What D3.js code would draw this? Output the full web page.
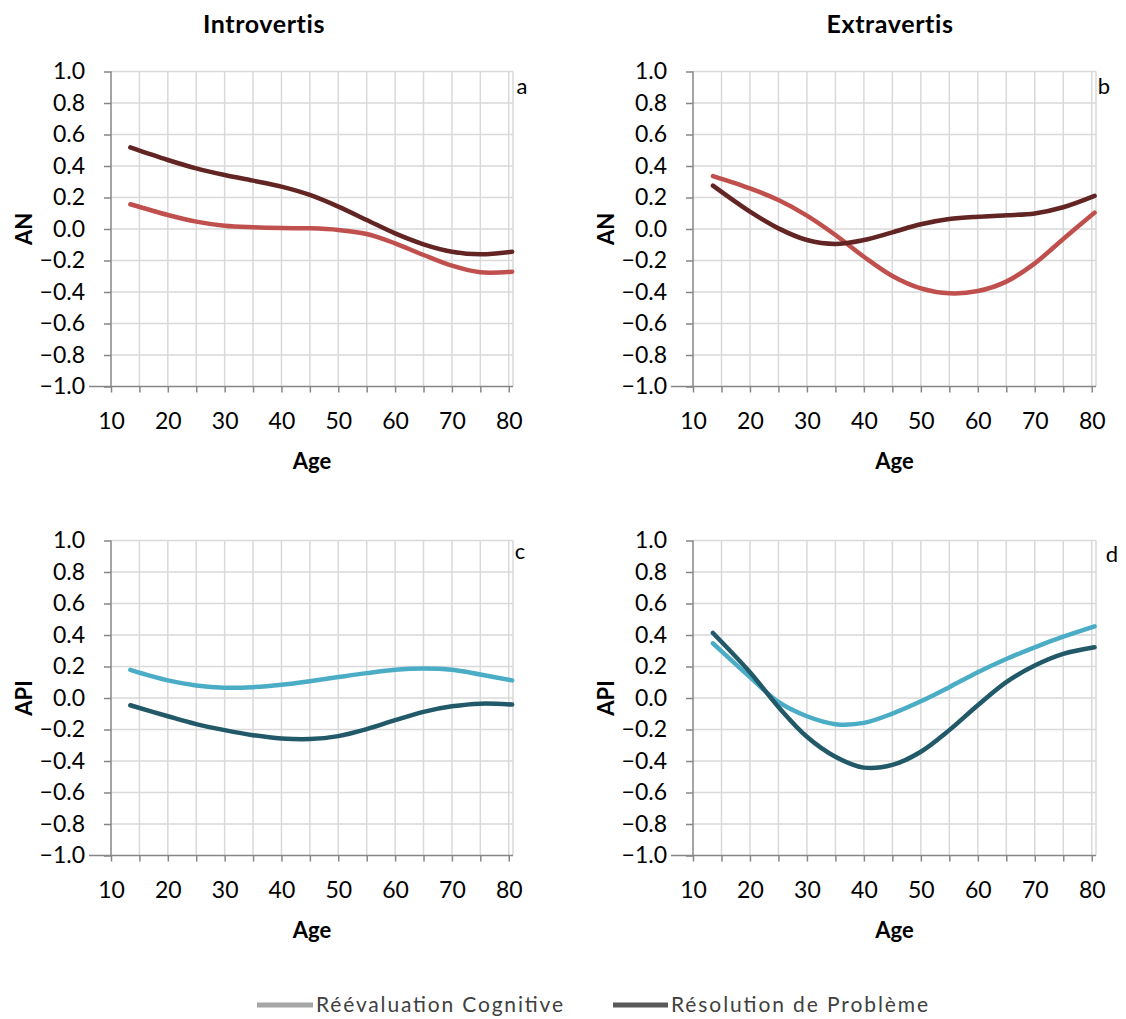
<!DOCTYPE html>
<html><head><meta charset="utf-8">
<script src="https://cdn.jsdelivr.net/npm/d3@7"></script>
<style>body{margin:0;background:#fff;} text{font-family:Lato,"Open Sans",sans-serif;}</style>
</head><body>
<svg id="chart" width="1126" height="1019"></svg>
<script>
// ---- data ----
const ageTicks = [10,20,30,40,50,60,70,80];
const yTicks = [-1.0,-0.8,-0.6,-0.4,-0.2,0.0,0.2,0.4,0.6,0.8,1.0];
const seriesNames = ["Réévaluation Cognitive","Résolution de Problème"];
const columnTitles = ["Introvertis","Extravertis"];

const agesA = [13.4,20,25,30,35,40,45,50,55,60,65,70,75,80.6];
const aReeval = [0.157,0.089,0.047,0.021,0.011,0.006,0.004,-0.006,-0.032,-0.091,-0.165,-0.233,-0.275,-0.271];
const aResol  = [0.518,0.438,0.385,0.343,0.307,0.269,0.216,0.142,0.057,-0.028,-0.097,-0.144,-0.161,-0.144];

const agesB = [13.5,20,25,30,35,40,45,50,55,60,65,70,75,80.5];
const bReeval = [0.336,0.258,0.184,0.085,-0.038,-0.176,-0.298,-0.377,-0.408,-0.394,-0.334,-0.218,-0.063,0.104];
const bResol  = [0.275,0.110,0.004,-0.070,-0.095,-0.070,-0.021,0.030,0.063,0.078,0.087,0.099,0.138,0.210];

const agesC = [13.4,20,25,30,35,40,45,50,55,60,65,70,75,80.6];
const cReeval = [0.179,0.112,0.080,0.065,0.069,0.084,0.107,0.133,0.158,0.179,0.187,0.179,0.149,0.112];
const cResol  = [-0.046,-0.116,-0.166,-0.204,-0.236,-0.257,-0.261,-0.242,-0.198,-0.141,-0.088,-0.053,-0.036,-0.042];

const agesD = [13.5,20,25,30,35,40,45,50,55,60,65,70,75,80.5];
const dReeval = [0.347,0.133,-0.025,-0.116,-0.166,-0.158,-0.099,-0.021,0.069,0.164,0.248,0.322,0.389,0.455];
const dResol  = [0.413,0.164,-0.057,-0.246,-0.373,-0.442,-0.425,-0.341,-0.204,-0.046,0.101,0.206,0.280,0.322];

// ---- drawing ----
const svg = d3.select("#chart");
const panels = [
  {id:"a", ylab:"AN",  x0:111, x1:513,  y0:71.5,  y1:386.5, ages:agesA, s:[aReeval,aResol], col:["#c0504d","#632523"]},
  {id:"b", ylab:"AN",  x0:693, x1:1096, y0:71.5,  y1:386.5, ages:agesB, s:[bReeval,bResol], col:["#c0504d","#632523"]},
  {id:"c", ylab:"API", x0:111, x1:513,  y0:540.5, y1:855.5, ages:agesC, s:[cReeval,cResol], col:["#4bacc6","#215968"]},
  {id:"d", ylab:"API", x0:693, x1:1096, y0:540.5, y1:855.5, ages:agesD, s:[dReeval,dResol], col:["#4bacc6","#215968"]}
];
const labelPos = {a:[522,94], b:[1104,94], c:[520,559], d:[1112,562]};

panels.forEach(p => {
  const x = d3.scaleLinear().domain([10,80.75]).range([p.x0,p.x1]);
  const y = d3.scaleLinear().domain([-1,1]).range([p.y1,p.y0]);
  const g = svg.append("g");
  // gridlines
  const minor = d3.range(15,81,5);
  g.selectAll(".vg").data(minor).join("line")
    .attr("x1",d=>x(d)).attr("x2",d=>x(d)).attr("y1",p.y0).attr("y2",p.y1)
    .attr("stroke","#d9d9d9").attr("stroke-width",1.5);
  g.selectAll(".hg").data(yTicks.filter(v=>v>-1)).join("line")
    .attr("x1",p.x0).attr("x2",p.x1).attr("y1",d=>y(d)).attr("y2",d=>y(d))
    .attr("stroke","#d9d9d9").attr("stroke-width",1.5);
  g.append("line").attr("x1",p.x1).attr("x2",p.x1).attr("y1",p.y0).attr("y2",p.y1)
    .attr("stroke","#d9d9d9").attr("stroke-width",1.5);
  // axes
  const xa = g.append("g").attr("transform",`translate(0,${p.y1})`)
    .call(d3.axisBottom(x).tickValues(d3.range(10,81,5)).tickSize(6).tickPadding(20)
      .tickFormat(d => d%10===0 ? d : ""));
  const ya = g.append("g").attr("transform",`translate(${p.x0},0)`)
    .call(d3.axisLeft(y).tickValues(yTicks).tickSize(7).tickPadding(19).tickFormat(d3.format(".1f")));
  [xa,ya].forEach(a=>{
    a.select(".domain").attr("stroke","#868686").attr("stroke-width",1.5);
    a.selectAll(".tick line").attr("stroke","#868686").attr("stroke-width",1.5);
    a.selectAll(".tick text").attr("font-size",23).attr("fill","#000").attr("font-family","Lato");
  });
  ya.select(".domain").attr("d",`M0,${p.y0}V${p.y1}`);
  xa.select(".domain").attr("d",`M${p.x0 - 22},0H${p.x1}`);
  // lines
  const line = d3.line().x(d=>x(d[0])).y(d=>y(d[1])).curve(d3.curveCatmullRom.alpha(0.5));
  p.s.forEach((vals,i) => {
    g.append("path").datum(p.ages.map((a,k)=>[a,vals[k]]))
      .attr("d",line).attr("fill","none").attr("stroke",p.col[i])
      .attr("stroke-width",4.5).attr("stroke-linecap","round");
  });
  // labels
  g.append("text").attr("x",(p.x0+p.x1)/2).attr("y",p.y1+82).attr("text-anchor","middle")
    .attr("font-weight","bold").attr("font-size",22).text("Age");
  g.append("text").attr("transform",`translate(${p.x0-79},${(p.y0+p.y1)/2}) rotate(-90)`)
    .attr("text-anchor","middle").attr("font-weight","bold").attr("font-size",22).text(p.ylab);
  g.append("text").attr("x",labelPos[p.id][0]).attr("y",labelPos[p.id][1])
    .attr("text-anchor","middle").attr("font-size",22).text(p.id);
});

// column titles
svg.selectAll(".ct").data(columnTitles).join("text")
  .attr("x",(d,i)=> i===0 ? 264 : 890).attr("y",33).attr("text-anchor","middle")
  .attr("font-weight","bold").attr("font-size",25).attr("letter-spacing",0.6).text(d=>d);

// legend
const legCols = ["#a6a6a6","#595959"];
const legX = [257,613];
const legL = [56,55];
const legW = [247,257];
seriesNames.forEach((n,i)=>{
  svg.append("line").attr("x1",legX[i]).attr("x2",legX[i]+legL[i]).attr("y1",1005).attr("y2",1005)
    .attr("stroke",legCols[i]).attr("stroke-width",5);
  svg.append("text").attr("x",legX[i]+legL[i]+3).attr("y",1012).attr("font-size",21)
    .attr("textLength",legW[i]).attr("lengthAdjust","spacing")
    .attr("fill","#404040").text(n);
});
</script>
</body></html>
